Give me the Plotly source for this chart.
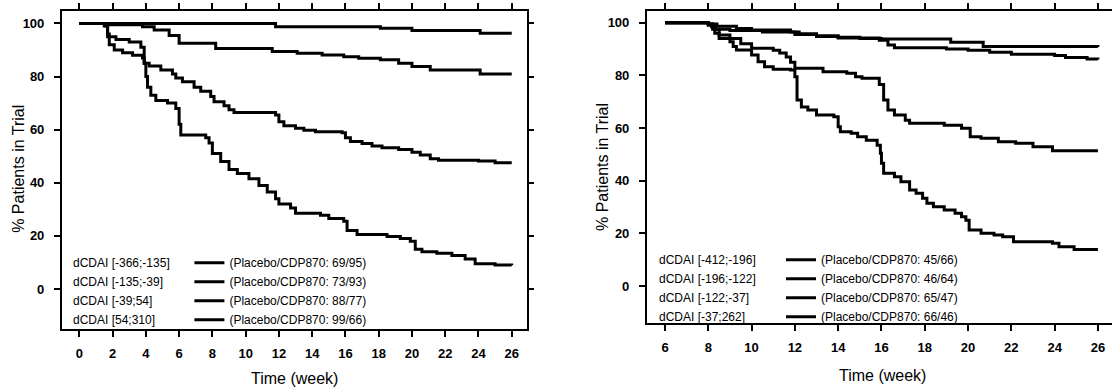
import plotly.graph_objects as go

# ---------------- data ----------------
LEFT_X_TICKS = list(range(0, 27, 2))
RIGHT_X_TICKS = list(range(6, 27, 2))
Y_TICKS = [0, 20, 40, 60, 80, 100]

LEFT_GROUPS = ["dCDAI [-366;-135]", "dCDAI [-135;-39]", "dCDAI [-39;54]", "dCDAI [54;310]"]
LEFT_COUNTS = ["(Placebo/CDP870: 69/95)", "(Placebo/CDP870: 73/93)",
               "(Placebo/CDP870: 88/77)", "(Placebo/CDP870: 99/66)"]
RIGHT_GROUPS = ["dCDAI [-412;-196]", "dCDAI [-196;-122]", "dCDAI [-122;-37]", "dCDAI [-37;262]"]
RIGHT_COUNTS = ["(Placebo/CDP870: 45/66)", "(Placebo/CDP870: 46/64)",
                "(Placebo/CDP870: 65/47)", "(Placebo/CDP870: 66/46)"]

L1_WEEK = [0, 11.8, 18.1, 20.0, 24.1, 26]
L1_PCT = [100, 98.8, 98.2, 97.3, 96.3, 96.3]

L2_WEEK = [0, 1.8, 3.8, 4.5, 5.4, 6.0, 8.2, 11.6, 13.1, 14.6, 15.9, 16.8, 18.1, 19.2, 20.0, 21.1, 24.1, 26]
L2_PCT = [100, 99.5, 98.8, 97.5, 95.5, 92.5, 90.6, 89.4, 88.8, 88.1, 87.5, 86.9, 86.3, 85.0, 83.8, 82.5, 81.0, 81.0]

L3_WEEK = [0, 1.6, 1.7, 1.8, 2.1, 2.6, 3.2, 3.8, 3.9, 4.2, 4.9, 5.6, 5.8, 6.2, 6.9, 7.3, 7.9, 8.1, 8.7, 9.0,
           9.3, 11.8, 12.0, 12.3, 13.0, 13.5, 14.2, 15.8, 16.0, 16.3, 17.0, 17.6, 18.2, 19.2, 20.0, 20.5,
           21.1, 21.6, 24.0, 25.0, 26]
L3_PCT = [100, 99, 96, 92, 90, 89, 88, 87, 85, 84, 82.5, 81, 79.5, 78, 76, 74.5, 72.5, 70.5, 69, 67.5,
          66.5, 65.5, 63, 61.5, 60.5, 59.8, 59.2, 58.8, 57, 55.5, 54.8, 53.8, 53.2, 52.5, 51.5, 50.5,
          49, 48.5, 48.2, 47.5, 47.5]

L4_WEEK = [0, 1.5, 1.7, 2.2, 3.0, 3.7, 3.9, 4.0, 4.1, 4.3, 4.6, 5.3, 5.8, 6.0, 6.1, 7.6, 7.8, 8.0, 8.5, 9.0,
           9.5, 10.2, 10.8, 11.3, 11.8, 12.0, 12.7, 13.0, 14.5, 15.0, 15.9, 16.1, 16.7, 18.5, 19.3, 19.9,
           20.2, 20.6, 21.5, 22.4, 23.2, 23.8, 25.0, 26]
L4_PCT = [100, 99, 95, 94, 93, 91, 85, 80, 76, 73, 71, 70, 68, 62, 58, 57, 55, 51, 48, 45,
          43.5, 41.5, 39, 36.5, 34, 32, 30.5, 28.5, 27.8, 26.5, 25.5, 22, 20.5, 19.8, 19, 18,
          15, 14, 13.5, 12.6, 11.3, 9.5, 9, 8.9]

R1_WEEK = [6, 8.0, 8.4, 9.3, 10.0, 11.8, 12.2, 13.0, 14.0, 15.0, 16.0, 19.2, 20.7, 26]
R1_PCT = [100, 99.5, 98.7, 97.8, 97.2, 96.5, 95.8, 95.0, 94.5, 94.0, 93.8, 92.6, 91.0, 90.8]

R2_WEEK = [6, 8.0, 8.3, 9.0, 10.5, 12.0, 13.0, 14.0, 15.9, 16.3, 16.6, 19.0, 20.0, 21.0, 22.0, 24.0, 24.5, 25.5, 26]
R2_PCT = [100, 99.0, 97.5, 97.0, 96.5, 95.5, 94.8, 94.2, 93.3, 91.5, 90.5, 90.0, 89.5, 88.8, 88.0, 87.5, 86.8, 86.2, 86.0]

R3_WEEK = [6, 8.0, 8.2, 8.5, 9.0, 9.5, 10.0, 11.0, 11.3, 11.6, 11.8, 12.0, 13.3, 14.4, 14.8, 15.1, 15.9, 16.1,
           16.3, 16.6, 17.1, 17.3, 18.9, 19.7, 20.1, 20.6, 21.4, 22.2, 23.0, 23.9, 26]
R3_PCT = [100, 99.5, 97.5, 95.3, 94.0, 92.0, 90.3, 89.5, 88.5, 87.0, 85.0, 82.7, 81.4, 80.8, 79.5, 78.9, 76.5, 70.6,
          66.8, 64.9, 63.0, 61.8, 61.1, 59.9, 56.7, 56.1, 54.8, 54.2, 52.9, 51.4, 51.4]

R4_WEEK = [6, 8.0, 8.15, 8.3, 8.5, 9.0, 9.15, 9.3, 10.0, 10.3, 10.6, 11.0, 11.8, 12.0, 12.1, 12.3, 12.6, 13.0,
           13.8, 14.0, 14.1, 14.6, 14.9, 15.3, 15.8, 15.95, 16.0, 16.1, 16.6, 16.9, 17.3, 17.6, 17.9, 18.1,
           18.4, 18.9, 19.4, 19.7, 19.9, 20.05, 20.6, 21.2, 21.6, 22.1, 23.9, 24.2, 24.9, 26]
R4_PCT = [100, 99.5, 98.5, 96.0, 94.0, 92.8, 91.0, 89.6, 87.7, 85.2, 83.3, 82.3, 82.0, 79.5, 70.6, 68.0, 66.8, 64.9,
          64.3, 60.5, 58.6, 58.0, 56.7, 55.4, 53.5, 50.4, 46.6, 42.8, 41.5, 39.6, 36.5, 35.2, 33.3, 31.4,
          30.1, 28.9, 27.6, 26.3, 25.0, 21.3, 20.0, 19.4, 18.7, 16.8, 16.2, 14.9, 13.9, 13.9]

LEFT_SERIES = [(L1_WEEK, L1_PCT), (L2_WEEK, L2_PCT), (L3_WEEK, L3_PCT), (L4_WEEK, L4_PCT)]
RIGHT_SERIES = [(R1_WEEK, R1_PCT), (R2_WEEK, R2_PCT), (R3_WEEK, R3_PCT), (R4_WEEK, R4_PCT)]

# ---------------- figure ----------------
W, H = 1112, 390
FONT = "Liberation Sans, Arial, Helvetica, sans-serif"
ROW = 19  # plotly legend row height for 12px text

def px(x):
    return x / W

def py(y):
    return 1 - y / H

fig = go.Figure()

for (wk, pc), name in zip(LEFT_SERIES, LEFT_COUNTS):
    fig.add_trace(go.Scatter(x=wk, y=pc, mode="lines", line=dict(color="black", width=3, shape="hv"),
                             name=name, xaxis="x", yaxis="y", legend="legend"))
for (wk, pc), name in zip(RIGHT_SERIES, RIGHT_COUNTS):
    fig.add_trace(go.Scatter(x=wk, y=pc, mode="lines", line=dict(color="black", width=3, shape="hv"),
                             name=name, xaxis="x2", yaxis="y2", legend="legend2"))

tickfont = dict(family=FONT, size=13, color="black", weight="bold")
axis_common = dict(showgrid=False, zeroline=False, showline=True, linecolor="black", linewidth=1.5,
                   ticks="outside", ticklen=6, tickwidth=1.5, tickcolor="black", tickfont=tickfont)

fig.update_layout(
    width=W, height=H, autosize=False,
    margin=dict(l=0, r=0, t=0, b=0, pad=0),
    paper_bgcolor="white", plot_bgcolor="white",
    font=dict(family=FONT, color="black"),
    xaxis=dict(domain=[px(61.7), px(526.7)], range=[-1.06, 26.9], tickvals=LEFT_X_TICKS,
               mirror="ticks", anchor="y", ticklabelstandoff=6, **axis_common),
    yaxis=dict(domain=[py(329), py(10.7)], range=[-15.07, 104.8], tickvals=Y_TICKS,
               mirror="ticks", anchor="x", ticklabelstandoff=7, **axis_common),
    xaxis2=dict(domain=[px(646.7), 1.0], range=[5.155, 26.65], tickvals=RIGHT_X_TICKS,
                mirror="ticks", anchor="y2", ticklabelstandoff=6, **axis_common),
    yaxis2=dict(domain=[py(323), py(10.7)], range=[-14.05, 104.56], tickvals=Y_TICKS,
                mirror=False, anchor="x2", ticklabelstandoff=7, **axis_common),
    showlegend=True,
    legend=dict(x=px(189.4), y=py(262.8 - 14.5), xanchor="left", yanchor="top",
                bgcolor="rgba(0,0,0,0)", borderwidth=0, font=dict(family=FONT, size=12, color="black")),
    legend2=dict(x=px(781), y=py(259.7 - 14.5), xanchor="left", yanchor="top",
                 bgcolor="rgba(0,0,0,0)", borderwidth=0, font=dict(family=FONT, size=12, color="black")),
)

ann = []
for i, g in enumerate(LEFT_GROUPS):
    ann.append(dict(text=g, x=px(70.5), y=py(262.8 + ROW * i), xref="paper", yref="paper",
                    xanchor="left", yanchor="middle", showarrow=False,
                    font=dict(family=FONT, size=12, color="black")))
for i, g in enumerate(RIGHT_GROUPS):
    ann.append(dict(text=g, x=px(656.5), y=py(259.7 + ROW * i), xref="paper", yref="paper",
                    xanchor="left", yanchor="middle", showarrow=False,
                    font=dict(family=FONT, size=12, color="black")))
title_font = dict(family=FONT, size=16, color="black")
ann += [
    dict(text="% Patients in Trial", textangle=-90, x=px(18.3), y=py(168.5), xref="paper", yref="paper",
         xanchor="center", yanchor="middle", showarrow=False, font=title_font),
    dict(text="% Patients in Trial", textangle=-90, x=px(602), y=py(167), xref="paper", yref="paper",
         xanchor="center", yanchor="middle", showarrow=False, font=title_font),
    dict(text="Time (week)", x=px(294), y=py(378.3), xref="paper", yref="paper",
         xanchor="center", yanchor="middle", showarrow=False, font=title_font),
    dict(text="Time (week)", x=px(882), y=py(375), xref="paper", yref="paper",
         xanchor="center", yanchor="middle", showarrow=False, font=title_font),
]
fig.update_layout(annotations=ann)

fig.write_html("out.html")
